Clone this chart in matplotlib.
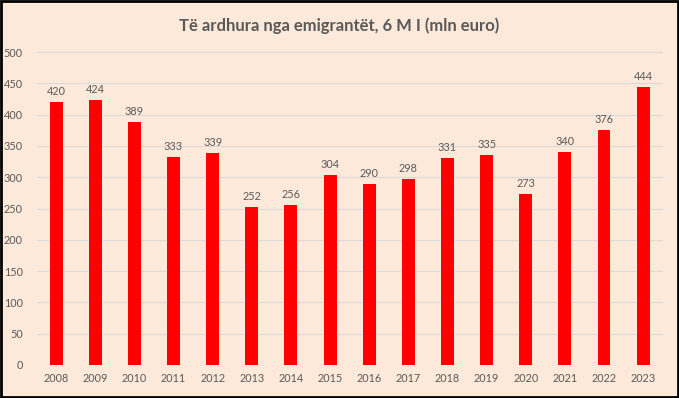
import matplotlib
matplotlib.use("Agg")
import matplotlib.pyplot as plt
from matplotlib.patches import Rectangle

years = ["2008", "2009", "2010", "2011", "2012", "2013", "2014", "2015",
         "2016", "2017", "2018", "2019", "2020", "2021", "2022", "2023"]
values = [420, 424, 389, 333, 339, 252, 256, 304, 290, 298, 331, 335, 273, 340, 376, 444]
yticks = [0, 50, 100, 150, 200, 250, 300, 350, 400, 450, 500]
title = "Të ardhura nga emigrantët, 6 M I (mln euro)"

bg = "#FDE9D9"
txt = "#595959"
plt.rcParams['font.family'] = ['Lato', 'DejaVu Sans']

fig = plt.figure(figsize=(6.79, 3.98), dpi=100, facecolor=bg)
ax = fig.add_axes([0.0538, 0.083, 0.9222, 0.786])
ax.set_facecolor(bg)
x = list(range(len(years)))
ax.bar(x, values, width=0.33, color="#FF0000", zorder=3)
for xi, v in zip(x, values):
    ax.text(xi, v + 8, str(v), ha="center", va="bottom", fontsize=7.8, color=txt)
ax.set_xlim(-0.5, len(years) - 0.5)
ax.set_ylim(0, 500)
ax.set_yticks(yticks)
ax.set_yticklabels([str(t) for t in yticks])
ax.set_xticks(x)
ax.set_xticklabels(years)
ax.tick_params(axis="both", length=0, labelsize=7.8, labelcolor=txt)
ax.tick_params(axis="x", pad=6)
ax.tick_params(axis="y", pad=10)
ax.grid(axis="y", color="#D9D9D9", linewidth=0.8, zorder=0)
for s in ax.spines.values():
    s.set_visible(False)
fig.text(0.5, 0.935, title, ha="center", va="center", fontsize=12, fontweight="bold", color=txt)
fig.patches.append(Rectangle((0.002, 0.003), 0.996, 0.994, transform=fig.transFigure,
                             fill=False, edgecolor="black", linewidth=2))
fig.savefig("out.png", dpi=100, facecolor=bg)
